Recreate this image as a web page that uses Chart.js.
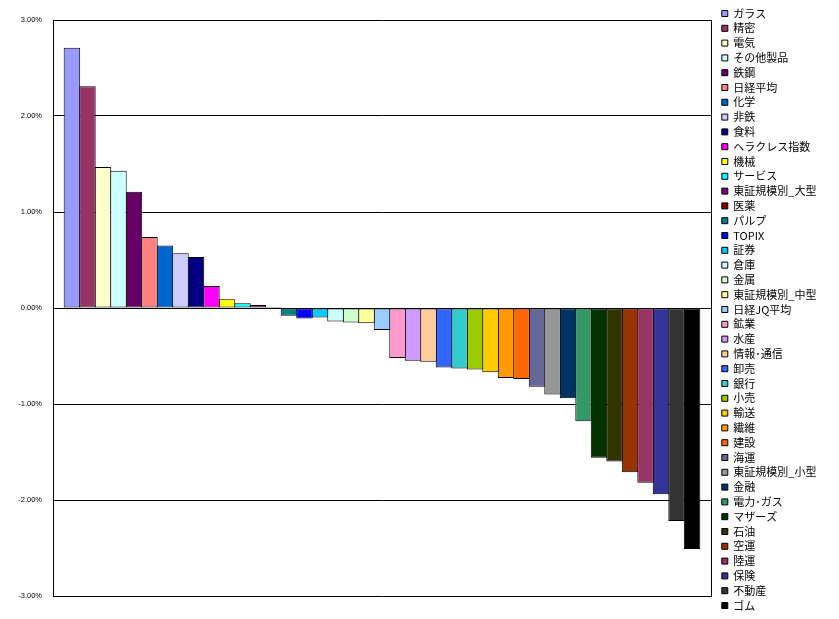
<!DOCTYPE html>
<html lang="ja">
<head>
<meta charset="utf-8">
<title>業種別騰落率</title>
<script src="https://cdn.jsdelivr.net/npm/chart.js@4.4.1/dist/chart.umd.min.js"></script>
<style>
  html, body { margin: 0; padding: 0; background: #fff; }
  #grafico { display: block; }
</style>
</head>
<body>
<canvas id="grafico" width="839" height="619"></canvas>
<script>
// 業種名（凡例の順 = 棒の順）
const gyoshu = [
    'ガラス', '精密', '電気', 'その他製品', '鉄鋼', '日経平均', '化学', '非鉄', '食料',
    'ヘラクレス指数', '機械', 'サービス', '東証規模別_大型', '医薬', 'パルプ', 'TOPIX',
    '証券', '倉庫', '金属', '東証規模別_中型', '日経JQ平均', '鉱業', '水産', '情報･通信',
    '卸売', '銀行', '小売', '輸送', '繊維', '建設', '海運', '東証規模別_小型', '金融',
    '電力･ガス', 'マザーズ', '石油', '空運', '陸運', '保険', '不動産', 'ゴム'
];

// 騰落率（%）
const rate = [
    2.71, 2.31, 1.47, 1.43, 1.21, 0.74, 0.65, 0.57, 0.53,
    0.23, 0.09, 0.05, 0.03, 0.01, -0.08, -0.11,
    -0.10, -0.14, -0.15, -0.16, -0.23, -0.52, -0.55, -0.56,
    -0.62, -0.63, -0.64, -0.67, -0.73, -0.74, -0.82, -0.90, -0.94,
    -1.18, -1.56, -1.60, -1.71, -1.82, -1.94, -2.22, -2.51
];

// 系列の色（Excel の既定パレット）
const iro = [
    '#9999FF', '#993366', '#FFFFCC', '#CCFFFF', '#660066', '#FF8080', '#0066CC', '#CCCCFF', '#000080',
    '#FF00FF', '#FFFF00', '#00FFFF', '#800080', '#800000', '#008080', '#0000FF',
    '#00CCFF', '#CCFFFF', '#CCFFCC', '#FFFF99', '#99CCFF', '#FF99CC', '#CC99FF', '#FFCC99',
    '#3366FF', '#33CCCC', '#99CC00', '#FFCC00', '#FF9900', '#FF6600', '#666699', '#969696', '#003366',
    '#339966', '#003300', '#333300', '#993300', '#993366', '#333399', '#333333', '#000000'
];

// 目盛り
const yMin = -3;
const yMax = 3;
const yStep = 1;

// 1業種 = 1系列（Excel と同じく凡例に系列名を出す）
const datasets = gyoshu.map((nome, i) => ({
    label: nome,
    data: [rate[i]],
    backgroundColor: iro[i],
    borderColor: '#000',
    borderWidth: 1,
    borderSkipped: false,
    inflateAmount: 0
}));

const ctx = document.getElementById('grafico').getContext('2d');
const grafico = new Chart(ctx, {
    type: 'bar',
    data: {
        labels: [''],
        datasets: datasets
    },
    options: {
        responsive: false,
        animation: false,
        layout: { padding: { left: 0, right: 17, top: 0, bottom: 0 } },
        categoryPercentage: 0.966,
        barPercentage: 1.065,
        plugins: {
            tooltip: { enabled: false },
            legend: {
                position: 'right',
                maxWidth: 104,
                labels: {
                    boxWidth: 6,
                    boxHeight: 6,
                    padding: 3.8,
                    color: '#000',
                    font: { family: '"Noto Sans CJK JP"', size: 11 }
                }
            }
        },
        scales: {
            x: {
                position: 'bottom',
                ticks: { display: false },
                grid: { color: '#000', lineWidth: 1, drawTicks: false },
                border: { display: false },
                afterFit: (s) => { s.height = 23; }
            },
            topo: {
                type: 'linear',
                position: 'top',
                ticks: { display: false },
                grid: { display: false },
                border: { display: false },
                afterFit: (s) => { s.height = 20; }
            },
            y: {
                min: yMin,
                max: yMax,
                ticks: {
                    stepSize: yStep,
                    padding: 11,
                    color: '#000',
                    font: { family: '"Liberation Sans"', size: 7.5 },
                    callback: (v) => v.toFixed(2) + '%'
                },
                grid: { color: '#000', lineWidth: 1, drawTicks: false },
                border: { color: '#000', width: 1 },
                afterFit: (s) => { s.width = 53; }
            },
            // 右側の枠線と凡例との隙間
            direita: {
                type: 'linear',
                position: 'right',
                ticks: { display: false },
                grid: { display: false },
                border: { display: true, color: '#000', width: 1 },
                afterFit: (s) => { s.width = 7; }
            }
        }
    }
});
</script>
</body>
</html>
